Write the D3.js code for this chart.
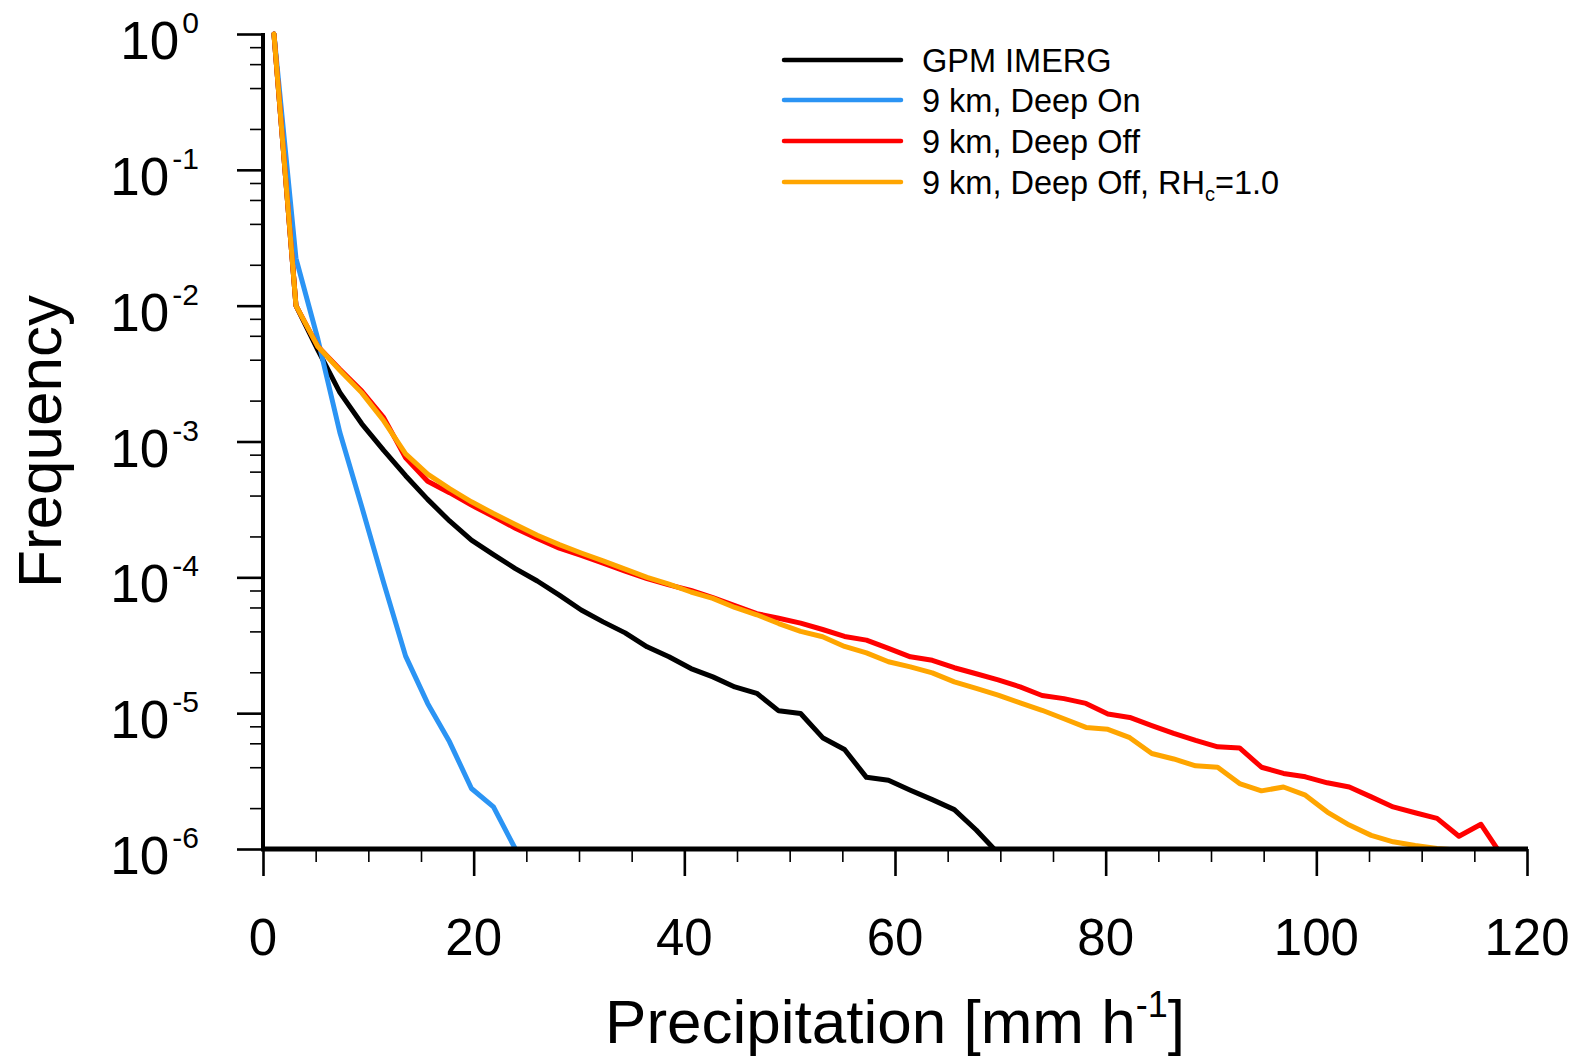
<!DOCTYPE html>
<html>
<head>
<meta charset="utf-8">
<script src="https://cdn.jsdelivr.net/npm/d3@7"></script>
<style>
  html, body { margin: 0; padding: 0; background: #fff; }
  text { font-family: "Liberation Sans", Helvetica, Arial, sans-serif; fill: #000; }
</style>
</head>
<body>
<div id="chart"></div>
<script>
// bin centres of the precipitation histogram [mm/h]
const binCenters = [1.04, 3.13, 5.21, 7.29, 9.38, 11.46, 13.54, 15.63, 17.71, 19.79,
  21.88, 23.96, 26.04, 28.13, 30.21, 32.29, 34.38, 36.46, 38.54, 40.63,
  42.71, 44.79, 46.88, 48.96, 51.04, 53.13, 55.21, 57.29, 59.38, 61.46,
  63.54, 65.63, 67.71, 69.79, 71.88, 73.96, 76.04, 78.13, 80.21, 82.29,
  84.38, 86.46, 88.54, 90.63, 92.71, 94.79, 96.88, 98.96, 101.04, 103.13,
  105.21, 107.29, 109.38, 111.46, 113.54, 115.63, 117.71];

const gpmImerg = [1.0, 1.0e-2, 4.7e-3, 2.3e-3, 1.35e-3, 8.6e-4, 5.6e-4, 3.75e-4, 2.6e-4, 1.88e-4,
  1.47e-4, 1.16e-4, 9.4e-5, 7.4e-5, 5.75e-5, 4.7e-5, 3.9e-5, 3.08e-5, 2.6e-5, 2.13e-5,
  1.85e-5, 1.56e-5, 1.40e-5, 1.04e-5, 9.95e-6, 6.6e-6, 5.4e-6, 3.37e-6, 3.21e-6, 2.71e-6,
  2.31e-6, 1.95e-6, 1.38e-6, 9.3e-7];

const deepOn = [1.0, 2.23e-2, 5.66e-3, 1.17e-3, 3.3e-4, 9.1e-5, 2.63e-5, 1.18e-5, 6.15e-6, 2.79e-6,
  2.04e-6, 1.0e-6];

const deepOff = [1.0, 1.0e-2, 5.0e-3, 3.4e-3, 2.35e-3, 1.5e-3, 7.6e-4, 5.1e-4, 4.2e-4, 3.4e-4,
  2.8e-4, 2.3e-4, 1.93e-4, 1.64e-4, 1.45e-4, 1.27e-4, 1.11e-4, 9.8e-5, 8.8e-5, 8.0e-5,
  7.1e-5, 6.2e-5, 5.4e-5, 5.0e-5, 4.6e-5, 4.13e-5, 3.67e-5, 3.45e-5, 3.0e-5, 2.6e-5,
  2.45e-5, 2.16e-5, 1.95e-5, 1.76e-5, 1.56e-5, 1.35e-5, 1.28e-5, 1.18e-5, 9.85e-6, 9.3e-6,
  8.1e-6, 7.1e-6, 6.3e-6, 5.65e-6, 5.55e-6, 4.0e-6, 3.6e-6, 3.4e-6, 3.07e-6, 2.86e-6,
  2.42e-6, 2.04e-6, 1.85e-6, 1.68e-6, 1.24e-6, 1.52e-6, 8.7e-7];

const deepOffRh = [1.0, 1.0e-2, 5.0e-3, 3.35e-3, 2.28e-3, 1.42e-3, 8.1e-4, 5.75e-4, 4.5e-4, 3.6e-4,
  2.95e-4, 2.45e-4, 2.04e-4, 1.74e-4, 1.51e-4, 1.32e-4, 1.15e-4, 1.0e-4, 8.9e-5, 7.8e-5,
  7.0e-5, 6.0e-5, 5.3e-5, 4.57e-5, 4.0e-5, 3.65e-5, 3.1e-5, 2.78e-5, 2.39e-5, 2.19e-5,
  1.98e-5, 1.7e-5, 1.52e-5, 1.36e-5, 1.19e-5, 1.05e-5, 9.1e-6, 7.85e-6, 7.6e-6, 6.6e-6,
  5.05e-6, 4.6e-6, 4.1e-6, 4.0e-6, 3.03e-6, 2.68e-6, 2.86e-6, 2.49e-6, 1.87e-6, 1.5e-6,
  1.26e-6, 1.13e-6, 1.06e-6, 1.01e-6, 9.8e-7];

const xMajorTicks = [0, 20, 40, 60, 80, 100, 120];
const xMinorTicks = [5, 10, 15, 25, 30, 35, 45, 50, 55, 65, 70, 75, 85, 90, 95, 105, 110, 115];
const yDecades = [0, -1, -2, -3, -4, -5, -6];
const yMinorMultipliers = [2, 4, 6, 8];

const seriesNames = ["GPM IMERG", "9 km, Deep On", "9 km, Deep Off", "9 km, Deep Off, RH"];
const seriesColors = ["#000000", "#2b94f4", "#ff0000", "#ffa500"];

const width = 1579, height = 1057;
const plot = {left: 263, right: 1527, top: 34, bottom: 849};

const svg = d3.select("#chart").append("svg")
  .attr("width", width)
  .attr("height", height);

const x = d3.scaleLinear().domain([0, 120]).range([plot.left, plot.right]);
const y = d3.scaleLog().domain([1e-6, 1]).range([plot.bottom, plot.top]);

svg.append("clipPath").attr("id", "plotClip")
  .append("rect")
  .attr("x", plot.left).attr("y", 0)
  .attr("width", plot.right - plot.left + 10)
  .attr("height", plot.bottom);

// curves
const allSeries = [gpmImerg, deepOn, deepOff, deepOffRh];
const line = d3.line()
  .x(d => x(d[0]))
  .y(d => y(d[1]));

const curves = svg.append("g").attr("clip-path", "url(#plotClip)");
allSeries.forEach((vals, i) => {
  const pts = vals.map((v, j) => [binCenters[j], v]);
  curves.append("path")
    .datum(pts)
    .attr("d", line)
    .attr("fill", "none")
    .attr("stroke", seriesColors[i])
    .attr("stroke-width", 5)
    .attr("stroke-linejoin", "round")
    .attr("stroke-linecap", "round");
});

// axes (ticks only; spines drawn separately)
function styleAxis(g, w) {
  g.select(".domain").remove();
  g.selectAll(".tick line").attr("stroke", "#000").attr("stroke-width", w);
}

svg.append("g")
  .attr("transform", `translate(0,${plot.bottom})`)
  .call(d3.axisBottom(x).tickValues(xMajorTicks).tickSize(27).tickFormat(""))
  .call(g => styleAxis(g, 2.6));
svg.append("g")
  .attr("transform", `translate(0,${plot.bottom})`)
  .call(d3.axisBottom(x).tickValues(xMinorTicks).tickSize(13).tickFormat(""))
  .call(g => styleAxis(g, 1.6));

const yMajor = yDecades.map(k => Math.pow(10, k));
const yMinor = [];
yDecades.slice(1).forEach(k => yMinorMultipliers.forEach(m => yMinor.push(m * Math.pow(10, k))));

svg.append("g")
  .attr("transform", `translate(${plot.left},0)`)
  .call(d3.axisLeft(y).tickValues(yMajor).tickSize(26).tickFormat(""))
  .call(g => styleAxis(g, 2.6));
svg.append("g")
  .attr("transform", `translate(${plot.left},0)`)
  .call(d3.axisLeft(y).tickValues(yMinor).tickSize(13).tickFormat(""))
  .call(g => styleAxis(g, 1.6));

// spines
svg.append("line")
  .attr("x1", plot.left).attr("x2", plot.left)
  .attr("y1", plot.top - 1).attr("y2", plot.bottom + 2)
  .attr("stroke", "#000").attr("stroke-width", 4);
svg.append("line")
  .attr("x1", plot.left - 2).attr("x2", plot.right + 1)
  .attr("y1", plot.bottom).attr("y2", plot.bottom)
  .attr("stroke", "#000").attr("stroke-width", 5);

// x tick labels
svg.append("g").selectAll("text")
  .data(xMajorTicks)
  .join("text")
  .attr("x", d => x(d))
  .attr("y", 955)
  .attr("text-anchor", "middle")
  .attr("font-size", 51)
  .text(d => d);

// y tick labels 10^k
const yLab = svg.append("g").selectAll("text")
  .data(yDecades)
  .join("text")
  .attr("x", 199)
  .attr("y", d => y(Math.pow(10, d)) + 25)
  .attr("text-anchor", "end")
  .attr("font-size", 53);
yLab.append("tspan").text("10");
yLab.append("tspan")
  .attr("dy", -26)
  .attr("dx", 3)
  .attr("font-size", 30)
  .text(d => d === 0 ? "0" : "-" + Math.abs(d));

// axis titles
const xTitle = svg.append("text")
  .attr("x", (plot.left + plot.right) / 2)
  .attr("y", 1043)
  .attr("text-anchor", "middle")
  .attr("font-size", 62);
xTitle.append("tspan").text("Precipitation [mm h");
xTitle.append("tspan").attr("dy", -26).attr("font-size", 36).text("-1");
xTitle.append("tspan").attr("dy", 26).text("]");

svg.append("text")
  .attr("transform", `translate(61,${(plot.top + plot.bottom) / 2}) rotate(-90)`)
  .attr("text-anchor", "middle")
  .attr("font-size", 62)
  .text("Frequency");

// legend
const legendY = [60, 100, 141, 182];
const legend = svg.append("g");
seriesNames.forEach((name, i) => {
  legend.append("line")
    .attr("x1", 784).attr("x2", 901)
    .attr("y1", legendY[i]).attr("y2", legendY[i])
    .attr("stroke", seriesColors[i])
    .attr("stroke-width", 4.5)
    .attr("stroke-linecap", "round");
  const t = legend.append("text")
    .attr("x", 922)
    .attr("y", legendY[i] + 12)
    .attr("font-size", 32.5);
  t.append("tspan").text(name);
  if (i === 3) {
    t.append("tspan").attr("dy", 7).attr("font-size", 20).text("c");
    t.append("tspan").attr("dy", -7).text("=1.0");
  }
});
</script>
</body>
</html>
